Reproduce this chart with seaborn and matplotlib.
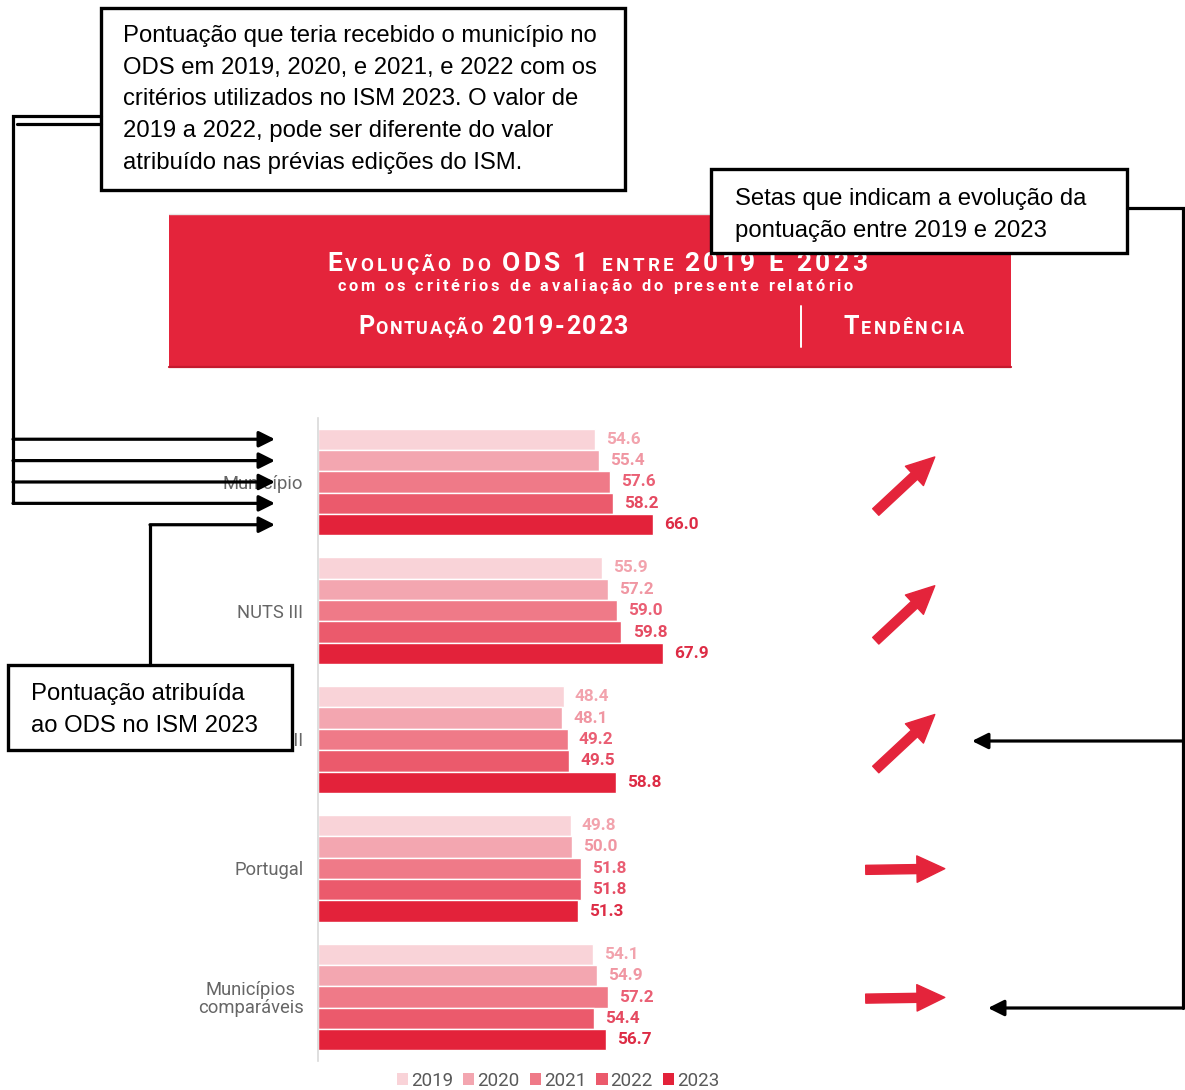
import matplotlib
matplotlib.use('Agg')
import numpy as np
import pandas as pd
import matplotlib.pyplot as plt
import seaborn as sns
from matplotlib.patches import Patch, Rectangle, FancyArrowPatch
from matplotlib.lines import Line2D
from matplotlib.transforms import ScaledTranslation, blended_transform_factory

# data
categories = ['Município', 'NUTS III', 'NUTS II', 'Portugal', 'Municípios\ncomparáveis']
years = ['2019', '2020', '2021', '2022', '2023']
score_2019 = [54.6, 55.9, 48.4, 49.8, 54.1]
score_2020 = [55.4, 57.2, 48.1, 50.0, 54.9]
score_2021 = [57.6, 59.0, 49.2, 51.8, 57.2]
score_2022 = [58.2, 59.8, 49.5, 51.8, 54.4]
score_2023 = [66.0, 67.9, 58.8, 51.3, 56.7]

bar_colors = ['#f9d3d8', '#f3a6b0', '#ef7a88', '#eb5a6c', '#e3223a']
label_colors = ['#f2a3ad', '#f096a2', '#ea5f74', '#e54a61', '#dd2c45']
red = '#e4243b'

rows = []
for yr, vals in zip(years, [score_2019, score_2020, score_2021, score_2022, score_2023]):
    for cat, v in zip(categories, vals):
        rows.append({'Categoria': cat, 'Ano': yr, 'Pontuação': v})
df = pd.DataFrame(rows)

sns.set_theme(style='white')
plt.rcParams['font.family'] = ['Roboto', 'DejaVu Sans']

W, H = 1185, 1090
fig = plt.figure(figsize=(W / 100, H / 100), dpi=100)


def fx(px):
    return px / W


def fy(py):
    return 1 - py / H


# ---- bar chart
ax = fig.add_axes([fx(318), fy(1061.4), fx(724) - fx(318), fy(417.6) - fy(1061.4)])
sns.barplot(data=df, y='Categoria', x='Pontuação', hue='Ano', palette=bar_colors,
            orient='h', width=0.83, saturation=1, edgecolor='white', linewidth=1,
            legend=False, ax=ax)
ax.set_xlim(0, 80)
ax.set_ylim(4.5, -0.5)
ax.set_xticks([])
ax.set_xlabel('')
ax.set_ylabel('')
for s in ['top', 'right', 'bottom']:
    ax.spines[s].set_visible(False)
ax.spines['left'].set_color('#d9d9d9')
ax.spines['left'].set_linewidth(1.2)
ax.tick_params(axis='y', left=False, length=0, pad=10.5, labelsize=13.2, labelcolor='#666666')
for lbl in ax.get_yticklabels():
    lbl.set_multialignment('center')
    lbl.set_linespacing(1.0)

for i, cont in enumerate(ax.containers):
    for bar in cont:
        v = bar.get_width()
        ax.annotate(f'{v:.1f}', (v, bar.get_y() + bar.get_height() / 2),
                    xytext=(8, 0), textcoords='offset points', va='center', ha='left',
                    fontsize=12.3, fontweight='bold', color=label_colors[i])

# ---- trend arrows
tax = fig.add_axes([fx(840), fy(1061.4), fx(990) - fx(840), fy(417.6) - fy(1061.4)], sharey=ax)
tax.axis('off')
trans = blended_transform_factory(tax.transAxes, tax.transData)
for i in range(len(categories)):
    diff = score_2023[i] - score_2019[i]
    if diff >= 5:
        dx, dy, off = 29.5, 27.5, -2.5
    else:
        dx, dy, off = 39.5, 0.6, -1.0
    tip = trans + ScaledTranslation(dx / 100, (dy + off) / 100, fig.dpi_scale_trans)
    tail = trans + ScaledTranslation(-dx / 100, (-dy + off) / 100, fig.dpi_scale_trans)
    tax.annotate('', xy=(0.435, i), xycoords=tip, xytext=(0.435, i), textcoords=tail,
                 arrowprops=dict(arrowstyle='simple,head_length=2.0,head_width=1.9,tail_width=0.65',
                                 mutation_scale=10, color=red, shrinkA=0, shrinkB=0))

# ---- header band
fig.add_artist(Rectangle((fx(169), fy(368)), fx(1011) - fx(169), fy(215) - fy(368),
                         transform=fig.transFigure, facecolor=red, edgecolor='none', zorder=1))
fig.add_artist(Line2D([fx(169), fx(1011)], [fy(367), fy(367)], color='#c41a2e', lw=1.6, zorder=2))
fig.add_artist(Line2D([fx(169), fx(1011)], [fy(214), fy(214)], color='#e6e6e6', lw=1, zorder=2))
fig.add_artist(Line2D([fx(801), fx(801)], [fy(306), fy(347)], color='white', lw=1.4, zorder=2))

renderer = fig.canvas.get_renderer()


def text_width(s, size):
    t = fig.text(0, 0, s, fontsize=size, fontweight='bold')
    w = t.get_window_extent(renderer).width
    t.remove()
    return w


def spaced_text(x0, x1, base, runs):
    # letter-spaced text fitted between x0 and x1 (pixels), runs = [(text, size), ...]
    chars = []
    for s, size in runs:
        for ch in s:
            if ch == ' ':
                w = text_width('x x', size) - text_width('xx', size)
            else:
                w = text_width(ch, size)
            chars.append((ch, size, w))
    natural = sum(c[2] for c in chars)
    track = (x1 - x0 - natural) / (len(chars) - 1)
    x = x0
    for ch, size, w in chars:
        if ch != ' ':
            fig.text(fx(x), fy(base), ch, fontsize=size, fontweight='bold', color='white',
                     ha='left', va='baseline', zorder=3)
        x += w + track


spaced_text(327, 867, 271, [('E', 19), ('VOLUÇÃO DO ', 13.5), ('ODS 1 ', 19), ('ENTRE ', 13.5), ('2019 E 2023', 19)])
spaced_text(337, 853, 291, [('com os critérios de avaliação do presente relatório', 11.8)])
spaced_text(358, 628, 334, [('P', 18), ('ONTUAÇÃO', 13), (' 2019-2023', 18)])
spaced_text(843, 964, 334, [('T', 18), ('ENDÊNCIA', 13)])

# ---- legend
handles = [Patch(facecolor=c, edgecolor='none', label=y) for c, y in zip(bar_colors, years)]
fig.legend(handles=handles, loc='center', bbox_to_anchor=(fx(558), fy(1081)), ncol=5,
           frameon=False, fontsize=13.5, handlelength=0.6, handleheight=0.6,
           handletextpad=0.15, columnspacing=0.55, labelcolor='#595959')

# ---- callout boxes
box_font = ['Liberation Sans', 'DejaVu Sans']


def callout(x0, y0, x1, y1, lines, tx, first_base, step):
    fig.add_artist(Rectangle((fx(x0), fy(y1)), fx(x1) - fx(x0), fy(y0) - fy(y1),
                             transform=fig.transFigure, facecolor='white', edgecolor='black',
                             lw=2.4, zorder=5))
    for k, line in enumerate(lines):
        fig.text(fx(tx), fy(first_base + k * step), line, family=box_font, fontsize=17.2,
                 color='black', ha='left', va='baseline', zorder=6)


callout(101, 8, 625, 190,
        ['Pontuação que teria recebido o município no',
         'ODS em 2019, 2020, e 2021, e 2022 com os',
         'critérios utilizados no ISM 2023. O valor de',
         '2019 a 2022, pode ser diferente do valor',
         'atribuído nas prévias edições do ISM.'], 123, 42, 31.7)
callout(711, 169, 1127, 253,
        ['Setas que indicam a evolução da',
         'pontuação entre 2019 e 2023'], 735, 205, 31.5)
callout(8, 665, 292, 750,
        ['Pontuação atribuída',
         'ao ODS no ISM 2023'], 31, 700, 32)


def polyline(pts):
    fig.add_artist(Line2D([fx(p[0]) for p in pts], [fy(p[1]) for p in pts],
                          color='black', lw=2.3, zorder=7, solid_joinstyle='miter'))


def arrow(p0, p1):
    fig.add_artist(FancyArrowPatch((fx(p0[0]), fy(p0[1])), (fx(p1[0]), fy(p1[1])),
                                   transform=fig.transFigure, arrowstyle='-|>',
                                   mutation_scale=24, lw=2.3, color='black',
                                   shrinkA=0, shrinkB=0, zorder=7))


# pointer arrows aimed at the bars of the first category
bar_px = []
for cont in ax.containers:
    b = cont[0]
    yd = ax.transData.transform((0, b.get_y() + b.get_height() / 2))[1]
    bar_px.append(H - yd)

polyline([(101, 116), (13, 116), (13, bar_px[3])])
polyline([(101, 124), (17, 124)])
for yp in bar_px[:4]:
    arrow((13, yp), (275, yp))
polyline([(150, 665), (150, bar_px[4])])
arrow((150, bar_px[4]), (275, bar_px[4]))

polyline([(1127, 208), (1183, 208), (1183, 1008)])
arrow((1183, 741), (972, 741))
arrow((1183, 1008), (988, 1008))

fig.savefig('out.png', dpi=100)
